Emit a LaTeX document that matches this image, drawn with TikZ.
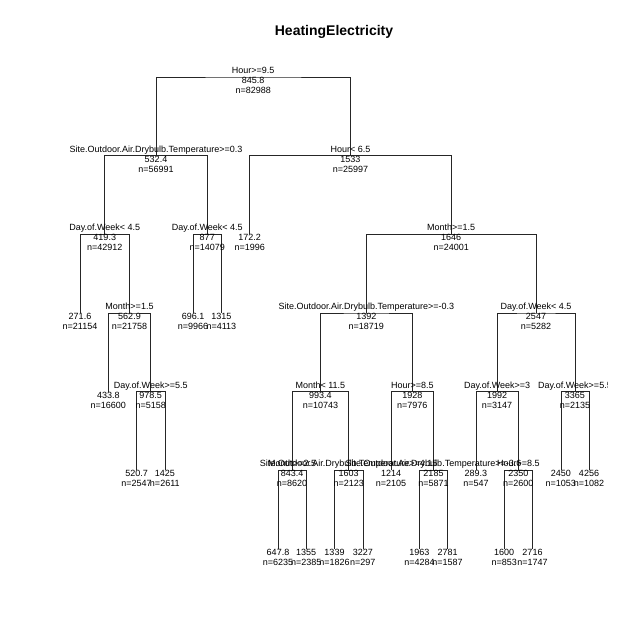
\documentclass[tikz,border=0pt]{standalone}
\usepackage{fontspec}
\setmainfont{Liberation Sans}

\begin{document}
\begin{tikzpicture}
		[
			x = 1pt, y = -1pt,
			font = \fontsize{9}{10}\selectfont,
			branch/.style = {draw = black!85, line width = 0.6pt},
			splitlab/.style = {anchor = base, inner sep = 0pt, yshift = 3.5pt},
			yvallab/.style = {anchor = base, inner sep = 0pt, yshift = -6.5pt},
			countlab/.style = {anchor = base, inner sep = 0pt, yshift = -16.5pt}
		]
		\useasboundingbox (0,0) rectangle (640,640);
		\node[anchor = base, font = \fontsize{14}{16}\selectfont\bfseries] (title) at (334,35) {HeatingElectricity};

		\begin{scope}
			\clip (0,0) rectangle (607,640);
			% tree nodes, numbered as rpart numbers them
			\foreach \id/\x/\y in {
					1/253.2/77,
					2/156.0/155.7, 3/350.45/155.7,
					4/104.75/234.3, 5/207.25/234.3, 6/249.7/234.3, 7/451.2/234.3,
					8/80.0/313, 9/129.5/313, 10/193.1/313, 11/221.4/313,
					14/366.35/313, 15/536.0/313,
					18/108.3/391.7, 19/150.7/391.7, 28/320.4/391.7, 29/412.3/391.7,
					30/497.1/391.7, 31/574.9/391.7,
					38/136.6/470.3, 39/164.8/470.3, 56/292.1/470.3, 57/348.65/470.3,
					58/391.1/470.3, 59/433.5/470.3, 60/475.9/470.3, 61/518.35/470.3,
					62/560.8/470.3, 63/589.0/470.3,
					112/278.0/549, 113/306.2/549, 114/334.5/549, 115/362.8/549,
					118/419.4/549, 119/447.6/549, 122/504.2/549, 123/532.5/549}
				\coordinate (n\id) at (\x,\y);

			% branches: left son, up, over, down to right son
			\foreach \p/\l/\r in {1/2/3, 2/4/5, 3/6/7, 4/8/9, 5/10/11, 7/14/15,
					9/18/19, 14/28/29, 15/30/31, 19/38/39, 28/56/57, 29/58/59,
					30/60/61, 31/62/63, 56/112/113, 57/114/115, 59/118/119, 61/122/123}
				\draw[branch] (n\l) |- (n\p) -| (n\r);

			% fitted values and counts
			\foreach \id/\val/\cnt in {
					1/845.8/82988, 2/532.4/56991, 3/1533/25997, 4/419.3/42912,
					5/877/14079, 6/172.2/1996, 7/1646/24001, 8/271.6/21154,
					9/562.9/21758, 10/696.1/9966, 11/1315/4113, 14/1392/18719,
					15/2547/5282, 18/433.8/16600, 19/978.5/5158, 28/993.4/10743,
					29/1928/7976, 30/1992/3147, 31/3365/2135, 38/520.7/2547,
					39/1425/2611, 56/843.4/8620, 57/1603/2123, 58/1214/2105,
					59/2185/5871, 60/289.3/547, 61/2350/2600, 62/2450/1053,
					63/4256/1082, 112/647.8/6235, 113/1355/2385, 114/1339/1826,
					115/3227/297, 118/1963/4284, 119/2781/1587, 122/1600/853,
					123/2716/1747}
			{
				\node[yvallab] (v\id) at (n\id) {\val};
				\node[countlab] (c\id) at (n\id) {n=\cnt};
			}

			% split rules
			\foreach \id/\rule in {
					1/Hour>=9.5,
					2/Site.Outdoor.Air.Drybulb.Temperature>=0.3,
					3/Hour< 6.5,
					4/Day.of.Week< 4.5,
					5/Day.of.Week< 4.5,
					7/Month>=1.5,
					9/Month>=1.5,
					14/Site.Outdoor.Air.Drybulb.Temperature>=-0.3,
					15/Day.of.Week< 4.5,
					19/Day.of.Week>=5.5,
					28/Month< 11.5,
					29/Hour>=8.5,
					30/Day.of.Week>=3,
					31/Day.of.Week>=5.5,
					56/Month>=2.5,
					57/Site.Outdoor.Air.Drybulb.Temperature>=4.15,
					59/Site.Outdoor.Air.Drybulb.Temperature>=-3.6,
					61/Hour>=8.5}
				\node[splitlab] (s\id) at (n\id) {\rule};
		\end{scope}
\end{tikzpicture}
\end{document}
